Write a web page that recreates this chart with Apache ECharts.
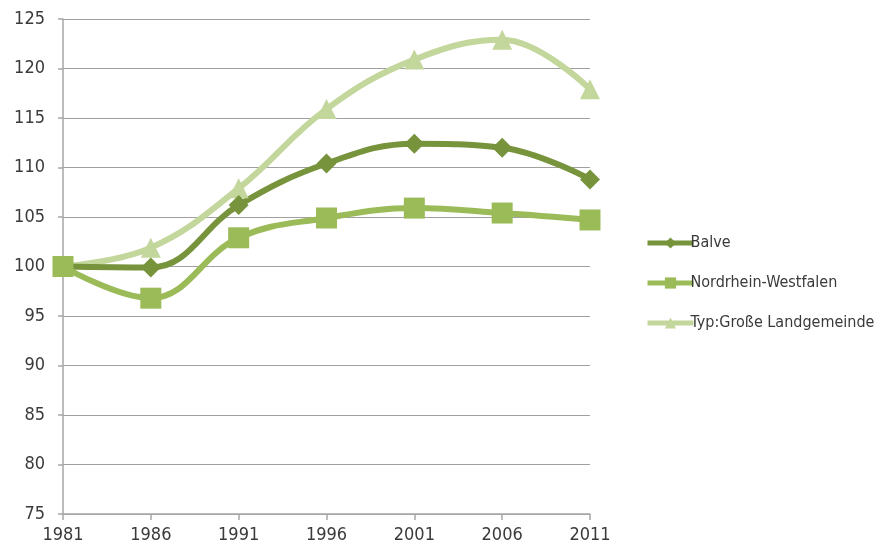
<!DOCTYPE html>
<html>
<head>
<meta charset="utf-8">
<script src="https://cdn.jsdelivr.net/npm/echarts@6/dist/echarts.min.js"></script>
<style>
  html, body { margin: 0; padding: 0; background: #fff; }
  #chart { width: 895px; height: 552px; }
</style>
</head>
<body>
<div id="chart"></div>
<script>
// Population index (1981 = 100)
const years = ['1981', '1986', '1991', '1996', '2001', '2006', '2011'];
const balve = [100, 99.9, 106.2, 110.4, 112.4, 112.0, 108.8];
const nrw = [100, 96.8, 102.9, 104.9, 105.9, 105.4, 104.7];
const landgemeinde = [100, 101.9, 107.9, 115.9, 120.9, 122.9, 117.9];
const seriesNames = ['Balve', 'Nordrhein-Westfalen', 'Typ:Große Landgemeinde'];

const font = "'DejaVu Sans Condensed', 'Liberation Sans', sans-serif";

const chart = echarts.init(document.getElementById('chart'), null, { renderer: 'canvas' });

function lineSeries(name, data, color, symbol, size) {
  return {
    name: name,
    type: 'line',
    data: data,
    smooth: 0.4,
    symbol: symbol,
    symbolSize: size,
    showAllSymbol: true,
    lineStyle: { color: color, width: 6 },
    itemStyle: { color: color, borderWidth: 0 },
    emphasis: { disabled: true },
    z: 2
  };
}

chart.setOption({
  animation: false,
  backgroundColor: '#ffffff',
  grid: { left: 63, right: 305, top: 19, bottom: 38, containLabel: false },
  legend: {
    orient: 'vertical',
    left: 640,
    top: 230,
    itemWidth: 46,
    itemHeight: 14,
    itemGap: 24,
    lineStyle: { width: 5 },
    textStyle: { fontFamily: font, fontSize: 16, color: '#3a3a3a', padding: [0, 0, 0, -8] },
    data: seriesNames
  },
  xAxis: {
    type: 'category',
    data: years,
    boundaryGap: false,
    axisLine: { lineStyle: { color: '#a6a6a6', width: 1.5 } },
    axisTick: { show: true, length: 6, lineStyle: { color: '#a6a6a6', width: 1.5 } },
    axisLabel: { fontFamily: font, fontSize: 18, color: '#3a3a3a', margin: 12 },
    splitLine: { show: false }
  },
  yAxis: {
    type: 'value',
    min: 75,
    max: 125,
    interval: 5,
    axisLine: { show: true, lineStyle: { color: '#a6a6a6', width: 1.5 } },
    axisTick: { show: true, length: 5, lineStyle: { color: '#a6a6a6', width: 1.5 } },
    axisLabel: { fontFamily: font, fontSize: 18, color: '#3a3a3a', margin: 18 },
    splitLine: { show: true, lineStyle: { color: '#a0a0a0', width: 1.2 } }
  },
  series: [
    lineSeries(seriesNames[2], landgemeinde, '#c3d69b', 'triangle', 20),
    lineSeries(seriesNames[0], balve, '#77933c', 'diamond', 20),
    lineSeries(seriesNames[1], nrw, '#9bbb59', 'rect', 21)
  ]
});
</script>
</body>
</html>
